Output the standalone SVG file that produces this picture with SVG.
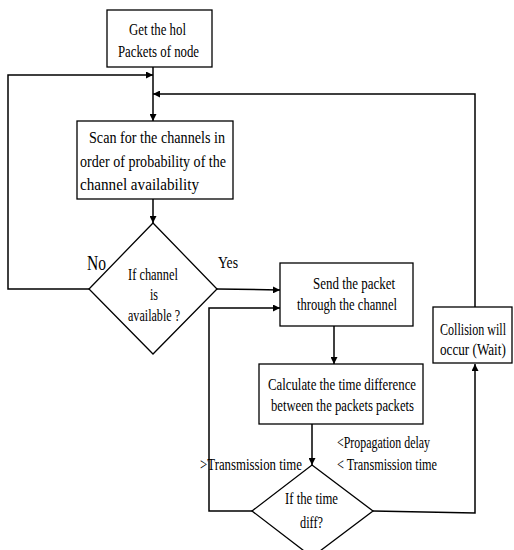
<svg xmlns="http://www.w3.org/2000/svg" width="514" height="550" viewBox="0 0 514 550">
<defs>
<marker id="ah" viewBox="0 0 8 8" refX="8" refY="4" markerWidth="7" markerHeight="7" markerUnits="userSpaceOnUse" orient="auto">
<path d="M0,0 L8,4 L0,8 z" fill="#000"/>
</marker>
</defs>
<style>
.box{fill:#fff;stroke:#000;stroke-width:1.3}
.t{font-family:"Liberation Serif","Times New Roman",serif;font-size:17px;fill:#000}
.c{fill:none;stroke:#000;stroke-width:1.5;marker-end:url(#ah)}
</style>
<rect width="514" height="550" fill="#fff"/>
<g id="connectors">
<path class="c" d="M153,67 V121"/>
<path class="c" d="M153,199 V223"/>
<path class="c" d="M89,289 H8 V75 H153"/>
<path class="c" d="M217,289 L280,290"/>
<path class="c" d="M334,326 V364"/>
<path class="c" d="M312,424 V465"/>
<path class="c" d="M252,511 H209 V308 H280"/>
<path class="c" d="M373,511 L475,513 V364"/>
<path class="c" d="M475,307 V94 H153"/>
</g>
<g id="n1">
<rect class="box" x="107" y="10" width="105" height="57"/>
<text class="t" x="129" y="35" textLength="57" lengthAdjust="spacingAndGlyphs">Get the hol</text>
<text class="t" x="118" y="57" textLength="81" lengthAdjust="spacingAndGlyphs">Packets of node</text>
</g>
<g id="n2">
<rect class="box" x="77" y="121" width="156" height="78"/>
<text class="t" x="89" y="143" textLength="136" lengthAdjust="spacingAndGlyphs">Scan for the channels in</text>
<text class="t" x="80" y="167" textLength="146" lengthAdjust="spacingAndGlyphs">order of probability of the</text>
<text class="t" x="80" y="190" textLength="119" lengthAdjust="spacingAndGlyphs">channel availability</text>
</g>
<g id="n3">
<path class="box" d="M153,223 L217,289 L153,354 L89,289 Z"/>
<text class="t" x="128" y="280" textLength="50" lengthAdjust="spacingAndGlyphs">If channel</text>
<text class="t" x="150" y="300" textLength="8" lengthAdjust="spacingAndGlyphs">is</text>
<text class="t" x="128" y="321" textLength="52" lengthAdjust="spacingAndGlyphs">available ?</text>
<text class="t" x="87" y="270" style="font-size:21px" textLength="19" lengthAdjust="spacingAndGlyphs">No</text>
<text class="t" x="218" y="268" textLength="20" lengthAdjust="spacingAndGlyphs">Yes</text>
</g>
<g id="n4">
<rect class="box" x="280" y="263" width="133" height="63"/>
<text class="t" x="313" y="289" textLength="82" lengthAdjust="spacingAndGlyphs">Send the packet</text>
<text class="t" x="297" y="310" textLength="100" lengthAdjust="spacingAndGlyphs">through the channel</text>
</g>
<g id="n5">
<rect class="box" x="433" y="307" width="79" height="56"/>
<text class="t" transform="translate(440,335) scale(0.71,1)">Collision will</text>
<text class="t" transform="translate(440,355) scale(0.775,1)">occur (Wait)</text>
</g>
<g id="n6">
<rect class="box" x="259" y="364" width="164" height="60"/>
<text class="t" x="268" y="390" textLength="148" lengthAdjust="spacingAndGlyphs">Calculate the time difference</text>
<text class="t" x="271" y="411" textLength="143" lengthAdjust="spacingAndGlyphs">between the packets packets</text>
</g>
<g id="n7">
<path class="box" d="M312,465 L373,511 L312,557 L252,511 Z"/>
<text class="t" x="285" y="504" textLength="53" lengthAdjust="spacingAndGlyphs">If the time</text>
<text class="t" x="300" y="528" textLength="23" lengthAdjust="spacingAndGlyphs">diff?</text>
</g>
<g id="labels">
<text class="t" x="337" y="448" textLength="93" lengthAdjust="spacingAndGlyphs">&lt;Propagation delay</text>
<text class="t" x="337" y="470" textLength="100" lengthAdjust="spacingAndGlyphs">&lt;  Transmission time</text>
<text class="t" x="200" y="470" textLength="102" lengthAdjust="spacingAndGlyphs">&gt;Transmission time</text>
</g>
</svg>
